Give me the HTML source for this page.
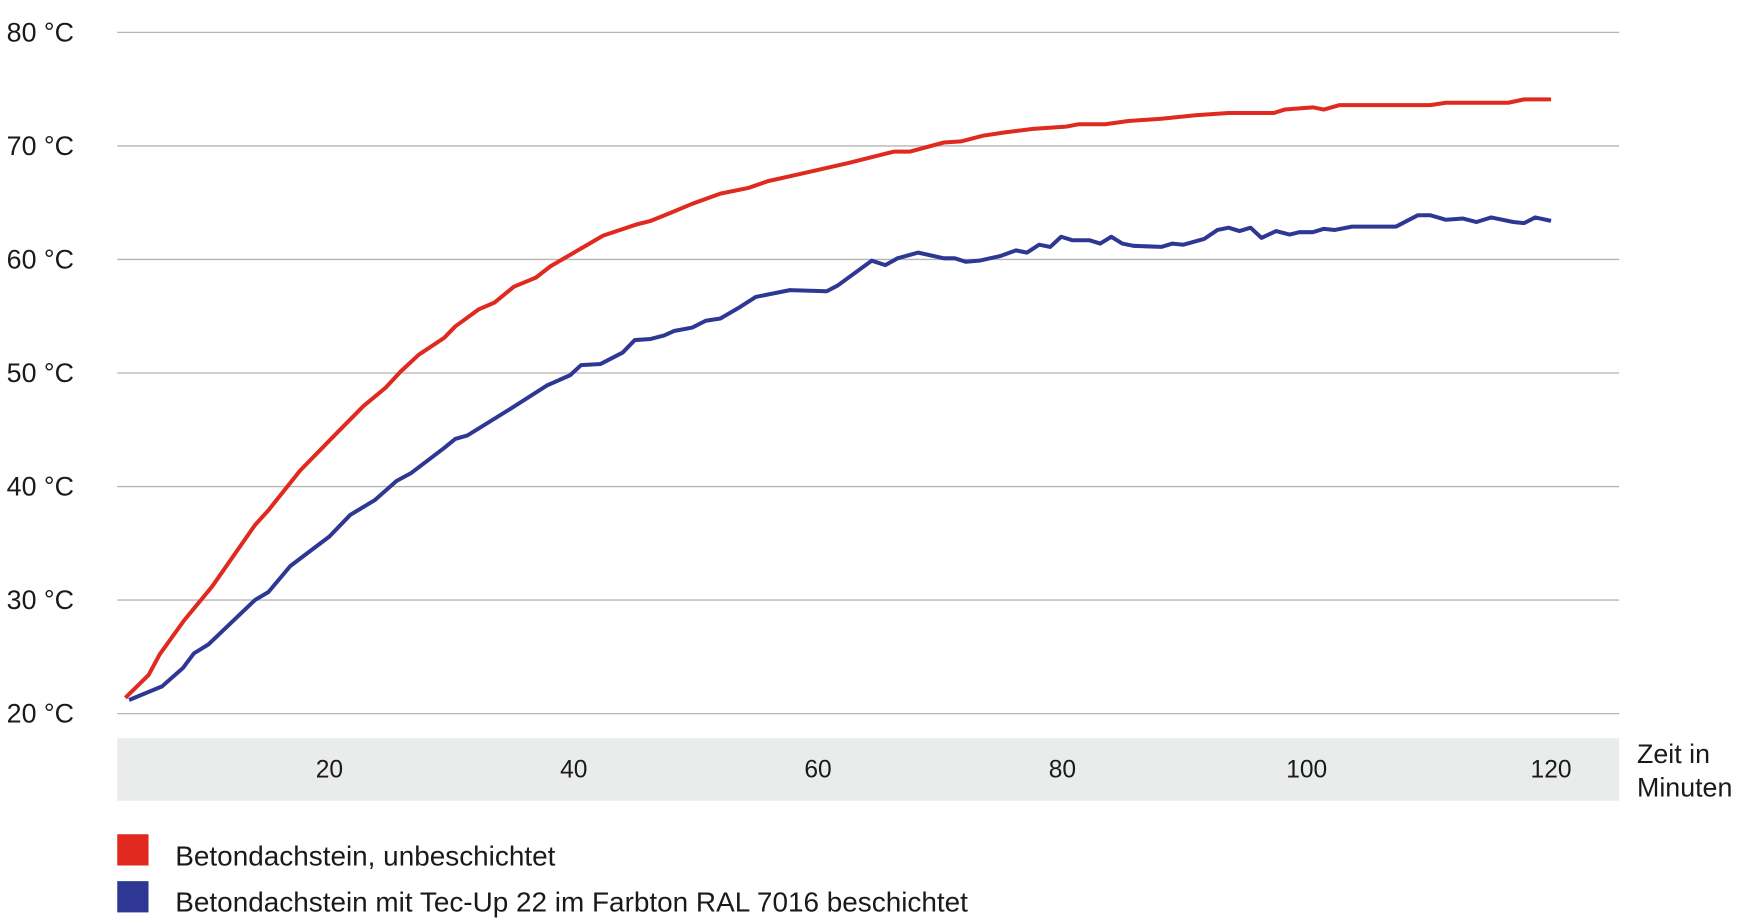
<!DOCTYPE html>
<html><head><meta charset="utf-8"><style>
html,body{margin:0;padding:0;background:#fff;}
svg{display:block;font-family:"Liberation Sans",Arial,sans-serif;}
</style></head><body>
<svg id="chart" width="1742" height="918" viewBox="0 0 1560 822" preserveAspectRatio="none" xmlns="http://www.w3.org/2000/svg">
<g id="grid"></g>
<rect x="105" y="661" width="1345" height="56" fill="#eaeceb"/>
<g id="xticks"></g>
<text x="1466" y="683" font-size="24" fill="#1a1a1a">Zeit in</text>
<text x="1466" y="713" font-size="24" fill="#1a1a1a">Minuten</text>
<g id="lines"></g>
<rect x="105" y="747" width="28" height="28" fill="#e0291f"/>
<text x="157" y="775" font-size="25" fill="#1a1a1a">Betondachstein, unbeschichtet</text>
<rect x="105" y="789" width="28" height="28" fill="#2e3894"/>
<text x="157" y="816" font-size="25" fill="#1a1a1a">Betondachstein mit Tec-Up 22 im Farbton RAL 7016 beschichtet</text>
</svg>
<script>
const yTicks=[20,30,40,50,60,70,80];
const xTicks=[20,40,60,80,100,120];
const redMin=[3.3,5.2,6.1,8.1,10.4,13.9,15.0,17.6,20.5,22.8,24.6,25.8,27.3,29.4,30.3,32.2,33.5,35.1,36.9,38.1,42.4,45.2,46.3,47.9,49.7,52.0,54.3,55.9,58.0,62.5,66.2,67.5,70.3,71.7,73.5,75.3,77.6,80.3,81.3,83.5,85.4,88.1,90.9,93.6,97.3,98.2,100.5,101.4,102.7,110.1,111.4,116.5,117.8,120.0];
const redTemp=[21.4,23.4,25.2,28.2,31.2,36.6,37.9,41.4,44.6,47.1,48.7,50.1,51.6,53.1,54.1,55.6,56.2,57.6,58.4,59.4,62.1,63.1,63.4,64.1,64.9,65.8,66.3,66.9,67.4,68.5,69.5,69.5,70.3,70.4,70.9,71.2,71.5,71.7,71.9,71.9,72.2,72.4,72.7,72.9,72.9,73.2,73.4,73.2,73.6,73.6,73.8,73.8,74.1,74.1];
const blueMin=[3.6,6.3,8.0,8.9,10.1,13.9,15.0,16.8,20.0,21.7,23.7,25.5,26.7,29.4,30.3,31.3,34.9,37.8,39.7,40.6,42.2,44.0,45.0,46.3,47.4,48.2,49.7,50.8,52.0,53.6,54.9,57.7,60.7,61.6,64.4,65.5,66.5,68.2,70.3,71.2,72.1,73.2,74.9,76.2,77.1,78.1,79.0,79.9,80.8,82.2,83.1,84.0,84.9,85.8,88.1,89.0,89.9,91.6,92.7,93.6,94.5,95.4,96.3,97.5,98.6,99.4,100.5,101.4,102.3,103.7,107.3,109.1,110.1,111.4,112.8,113.9,115.1,116.9,117.8,118.7,120.0];
const blueTemp=[21.2,22.4,24.0,25.3,26.1,30.0,30.7,33.0,35.6,37.5,38.8,40.5,41.2,43.4,44.2,44.5,46.9,48.9,49.8,50.7,50.8,51.8,52.9,53.0,53.3,53.7,54.0,54.6,54.8,55.8,56.7,57.3,57.2,57.7,59.9,59.5,60.1,60.6,60.1,60.1,59.8,59.9,60.3,60.8,60.6,61.3,61.1,62.0,61.7,61.7,61.4,62.0,61.4,61.2,61.1,61.4,61.3,61.8,62.6,62.8,62.5,62.8,61.9,62.5,62.2,62.4,62.4,62.7,62.6,62.9,62.9,63.9,63.9,63.5,63.6,63.3,63.7,63.3,63.2,63.7,63.4];
const NS="http://www.w3.org/2000/svg";
function xS(m){return 295+(m-20)*(1389-295)/100;}
function yS(t){return 639-(t-20)*(639-29)/60;}
const grid=document.getElementById('grid');
yTicks.forEach(t=>{
  const l=document.createElementNS(NS,'line');
  
  
  l.setAttribute('x1',105);l.setAttribute('x2',1450);
  l.setAttribute('y1',yS(t));l.setAttribute('y2',yS(t));
  l.setAttribute('stroke','#b5b5b5');l.setAttribute('stroke-width','1.2');
  grid.appendChild(l);
  const tx=document.createElementNS(NS,'text');
  
  
  tx.setAttribute('x',6);tx.setAttribute('y',yS(t)+8);
  tx.setAttribute('font-size','24');tx.setAttribute('fill','#1a1a1a');
  tx.textContent=t+' °C';
  grid.appendChild(tx);
});
const xg=document.getElementById('xticks');
xTicks.forEach(m=>{
  const tx=document.createElementNS(NS,'text');
  
  
  tx.setAttribute('x',xS(m));tx.setAttribute('y',696);
  tx.setAttribute('text-anchor','middle');
  tx.setAttribute('font-size','22');tx.setAttribute('fill','#1a1a1a');
  tx.textContent=m;
  xg.appendChild(tx);
});
const lg=document.getElementById('lines');
function drawLine(xs,ys,color,name){
  const p=document.createElementNS(NS,'polyline');
  
  
  p.setAttribute('points',xs.map((m,i)=>xS(m).toFixed(1)+','+yS(ys[i]).toFixed(1)).join(' '));
  p.setAttribute('fill','none');p.setAttribute('stroke',color);
  p.setAttribute('stroke-width','3.6');p.setAttribute('stroke-linejoin','round');
  lg.appendChild(p);
}
drawLine(redMin,redTemp,'#e0291f','line-uncoated');
drawLine(blueMin,blueTemp,'#2e3894','line-coated');
</script>
</body></html>
